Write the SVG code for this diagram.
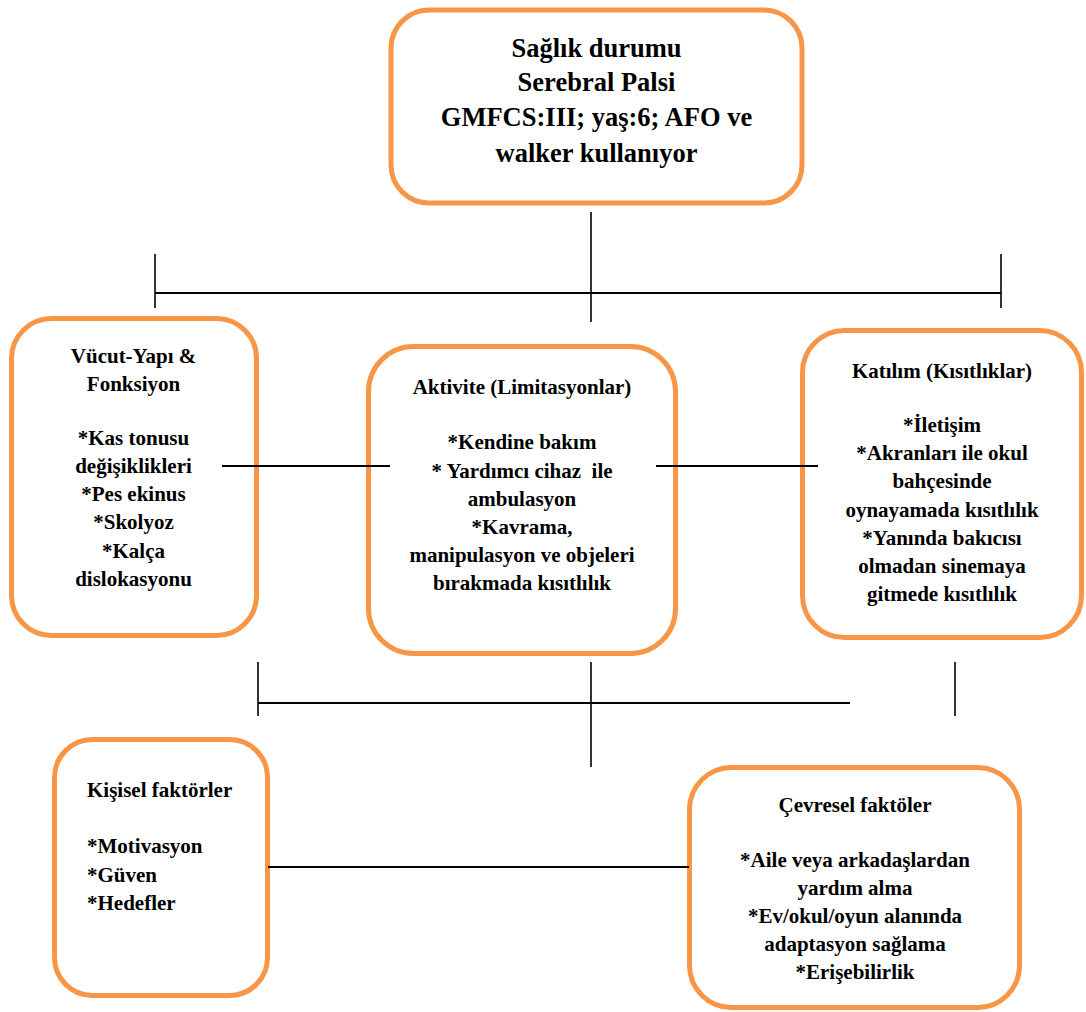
<svg xmlns="http://www.w3.org/2000/svg" width="1086" height="1012" viewBox="0 0 1086 1012">
<style>
.box{fill:#fff;stroke:#F79646;stroke-width:5}
.ln{stroke:#000;stroke-width:2;fill:none}
.lv{stroke:#000;stroke-width:1.6;fill:none}
text{font-weight:bold;fill:#000}
.t{font-size:26.5px;text-anchor:middle}
.b{font-size:21px;text-anchor:middle}
.l{font-size:21px;text-anchor:start}
</style>
<rect width="1086" height="1012" fill="#fff"/>
<g font-family="'Liberation Serif', Tinos, 'Times New Roman', 'DejaVu Serif', serif">
<g id="saglik">
<rect class="box" x="391" y="10" width="411" height="193" rx="38"/>
<text class="t" x="596.5" y="57">Sağlık durumu</text>
<text class="t" x="596.5" y="91">Serebral Palsi</text>
<text class="t" x="596.5" y="126">GMFCS:III; yaş:6; AFO ve</text>
<text class="t" x="596.5" y="162">walker kullanıyor</text>
</g>
<g id="vucut">
<rect class="box" x="11.5" y="318.5" width="245" height="317" rx="40"/>
<text class="b" x="133.5" y="363">Vücut-Yapı &amp;</text>
<text class="b" x="133.5" y="391">Fonksiyon</text>
<text class="b" x="133.5" y="445">*Kas tonusu</text>
<text class="b" x="133.5" y="473">değişiklikleri</text>
<text class="b" x="133.5" y="501">*Pes ekinus</text>
<text class="b" x="133.5" y="529">*Skolyoz</text>
<text class="b" x="133.5" y="558">*Kalça</text>
<text class="b" x="133.5" y="586">dislokasyonu</text>
</g>
<g id="aktivite">
<rect class="box" x="368.5" y="346.5" width="307" height="307" rx="45"/>
<text class="b" x="522" y="394">Aktivite (Limitasyonlar)</text>
<text class="b" x="522" y="449">*Kendine bakım</text>
<text class="b" x="522" y="478" xml:space="preserve">* Yardımcı cihaz  ile</text>
<text class="b" x="522" y="506">ambulasyon</text>
<text class="b" x="522" y="534">*Kavrama,</text>
<text class="b" x="522" y="562">manipulasyon ve objeleri</text>
<text class="b" x="522" y="590">bırakmada kısıtlılık</text>
</g>
<g id="katilim">
<rect class="box" x="802.5" y="330.5" width="279" height="307" rx="42"/>
<text class="b" x="942" y="378">Katılım (Kısıtlıklar)</text>
<text class="b" x="942" y="432">*İletişim</text>
<text class="b" x="942" y="460">*Akranları ile okul</text>
<text class="b" x="942" y="488">bahçesinde</text>
<text class="b" x="942" y="517">oynayamada kısıtlılık</text>
<text class="b" x="942" y="545">*Yanında bakıcısı</text>
<text class="b" x="942" y="573">olmadan sinemaya</text>
<text class="b" x="942" y="601">gitmede kısıtlılık</text>
</g>
<g id="kisisel">
<rect class="box" x="54.5" y="739.5" width="213" height="256" rx="38"/>
<text class="l" x="87" y="797">Kişisel faktörler</text>
<text class="l" x="87" y="853">*Motivasyon</text>
<text class="l" x="87" y="882">*Güven</text>
<text class="l" x="87" y="910">*Hedefler</text>
</g>
<g id="cevresel">
<rect class="box" x="689.5" y="767.5" width="330" height="240" rx="42"/>
<text class="b" x="855" y="812">Çevresel faktöler</text>
<text class="b" x="855" y="867">*Aile veya arkadaşlardan</text>
<text class="b" x="855" y="895">yardım alma</text>
<text class="b" x="855" y="923">*Ev/okul/oyun alanında</text>
<text class="b" x="855" y="951">adaptasyon sağlama</text>
<text class="b" x="855" y="979">*Erişebilirlik</text>
</g>
</g>
<g id="connectors">
<line class="lv" x1="591" y1="212" x2="591" y2="322"/>
<line class="ln" x1="155" y1="293" x2="1001" y2="293"/>
<line class="lv" x1="155" y1="254" x2="155" y2="308"/>
<line class="lv" x1="1001" y1="254" x2="1001" y2="308"/>
<line class="ln" x1="222" y1="466" x2="390" y2="466"/>
<line class="ln" x1="656" y1="466" x2="818" y2="466"/>
<line class="ln" x1="258" y1="703" x2="850" y2="703"/>
<line class="lv" x1="258" y1="662" x2="258" y2="716"/>
<line class="lv" x1="591" y1="662" x2="591" y2="767"/>
<line class="lv" x1="955" y1="662" x2="955" y2="716"/>
<line class="ln" x1="268" y1="867" x2="689" y2="867"/>
</g>
</svg>
